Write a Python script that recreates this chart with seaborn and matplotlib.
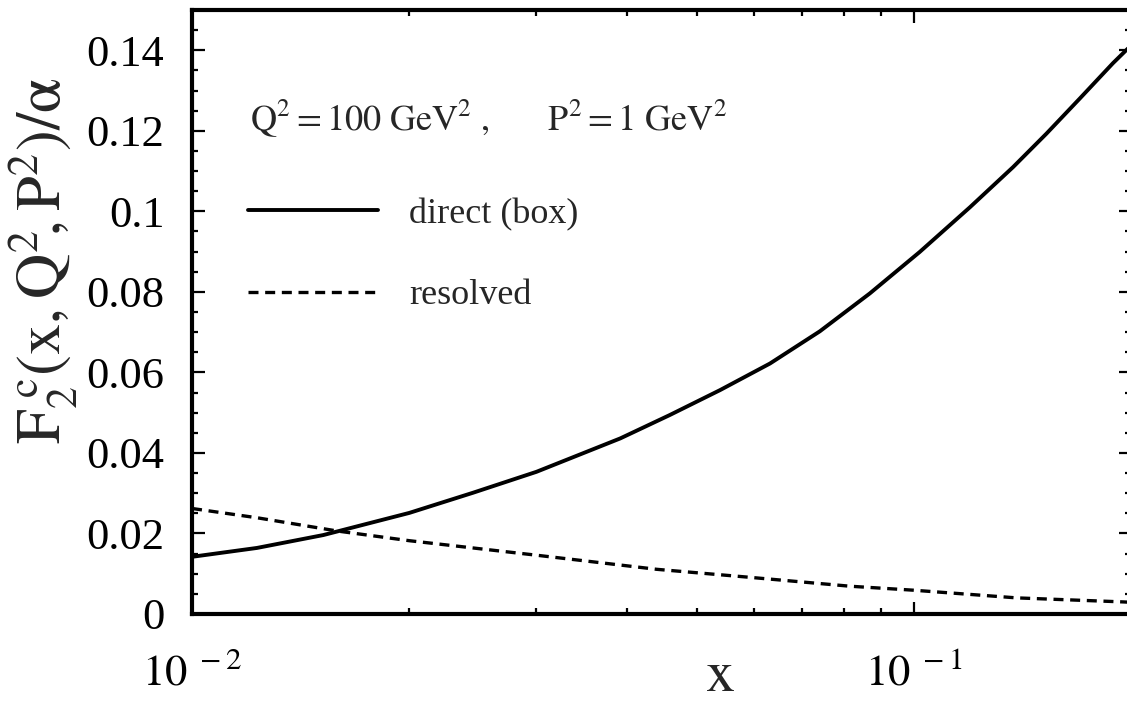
import numpy as np
import pandas as pd
import matplotlib
matplotlib.use("Agg")
import matplotlib.pyplot as plt
import seaborn as sns
from matplotlib.ticker import FixedLocator, NullFormatter

# ---- data ----
x_direct = [0.01, 0.0123, 0.0152, 0.02, 0.0245, 0.03, 0.0392, 0.0459, 0.0539, 0.0632, 0.0741,
            0.0869, 0.1019, 0.1196, 0.1373, 0.1527, 0.1698, 0.1888, 0.2]
direct_box = [0.0142, 0.0164, 0.0196, 0.0251, 0.0301, 0.0353, 0.0436, 0.0494, 0.0556, 0.0622, 0.0702,
              0.0796, 0.0899, 0.1010, 0.1110, 0.1193, 0.1280, 0.1368, 0.1412]
x_resolved = [0.01, 0.0123, 0.0159, 0.02, 0.03, 0.044, 0.0593, 0.0815, 0.1, 0.1388, 0.1948, 0.2]
resolved = [0.0262, 0.0239, 0.0206, 0.0182, 0.0146, 0.0111, 0.0091, 0.0069, 0.0059, 0.0040, 0.0030, 0.0029]
series_names = ["direct (box)", "resolved"]
y_ticks = [0, 0.02, 0.04, 0.06, 0.08, 0.1, 0.12, 0.14]
y_tick_labels = ["0", "0.02", "0.04", "0.06", "0.08", "0.1", "0.12", "0.14"]
x_major = [0.01, 0.1]
x_major_labels = [r"$\mathrm{10^{\ -2}}$", r"$\mathrm{10^{\ -1}}$"]
x_minor = [0.02, 0.03, 0.04, 0.05, 0.06, 0.07, 0.08, 0.09, 0.2]

df = pd.DataFrame({
    "x": x_direct + x_resolved,
    "F": direct_box + resolved,
    "curve": [series_names[0]] * len(x_direct) + [series_names[1]] * len(x_resolved),
})

sns.set_theme(style="ticks")
plt.rcParams["font.family"] = ["Liberation Serif", "DejaVu Serif"]
plt.rcParams["mathtext.fontset"] = "stix"

fig = plt.figure(figsize=(11.27, 7.08), dpi=100)
ax = fig.add_axes([0.1704, 0.1328, 1.0036 - 0.1704, 0.9859 - 0.1328])

sns.lineplot(data=df, x="x", y="F", hue="curve", style="curve",
             palette={series_names[0]: "black", series_names[1]: "black"},
             dashes={series_names[0]: "", series_names[1]: (3, 2)},
             linewidth=2.8, ax=ax, legend=False)
lines = ax.get_lines()
lines[1].set_linewidth(2.4)

ax.set_xscale("log")
ax.set_xlim(0.01, 0.2)
ax.set_ylim(0, 0.15)

ax.xaxis.set_major_locator(FixedLocator(x_major))
ax.set_xticklabels(x_major_labels)
ax.xaxis.set_minor_locator(FixedLocator(x_minor))
ax.xaxis.set_minor_formatter(NullFormatter())
ax.set_yticks(y_ticks)
ax.set_yticklabels(y_tick_labels)
ax.yaxis.set_minor_locator(FixedLocator(np.arange(0, 0.1501, 0.005)))

for sp in ax.spines.values():
    sp.set_linewidth(3.0)
    sp.set_color("black")
    sp.set_visible(True)

ax.tick_params(which="both", direction="in", top=True, right=True, width=1.6, colors="black")
ax.tick_params(which="major", length=9)
ax.tick_params(which="minor", length=4.5)
ax.tick_params(axis="y", which="major", labelsize=32, pad=20)
ax.tick_params(axis="x", which="major", labelsize=32, pad=28)

ax.set_xlabel(r"$\mathrm{x}$", fontsize=42)
ax.xaxis.set_label_coords(0.562, -0.062)
ax.set_ylabel(r"$\mathrm{F_2^{\ c}(x,Q^2\!,P^2)/\alpha}$", fontsize=45)
ax.yaxis.set_label_coords(-0.119, 0.585)

ax.text(0.062, 0.801, r"$\mathrm{Q^2 = 100\ GeV^2\ ,\qquad P^2 = 1\ GeV^2}$",
        transform=ax.transAxes, fontsize=26, ha="left", va="baseline")

handles = [lines[0], lines[1]]
leg = ax.legend(handles, series_names, loc="upper left", bbox_to_anchor=(0.060, 0.689),
                frameon=False, fontsize=26, handlelength=3.6, handletextpad=0.85,
                labelspacing=1.33, borderpad=0, borderaxespad=0)

fig.savefig("out.png", dpi=100)
